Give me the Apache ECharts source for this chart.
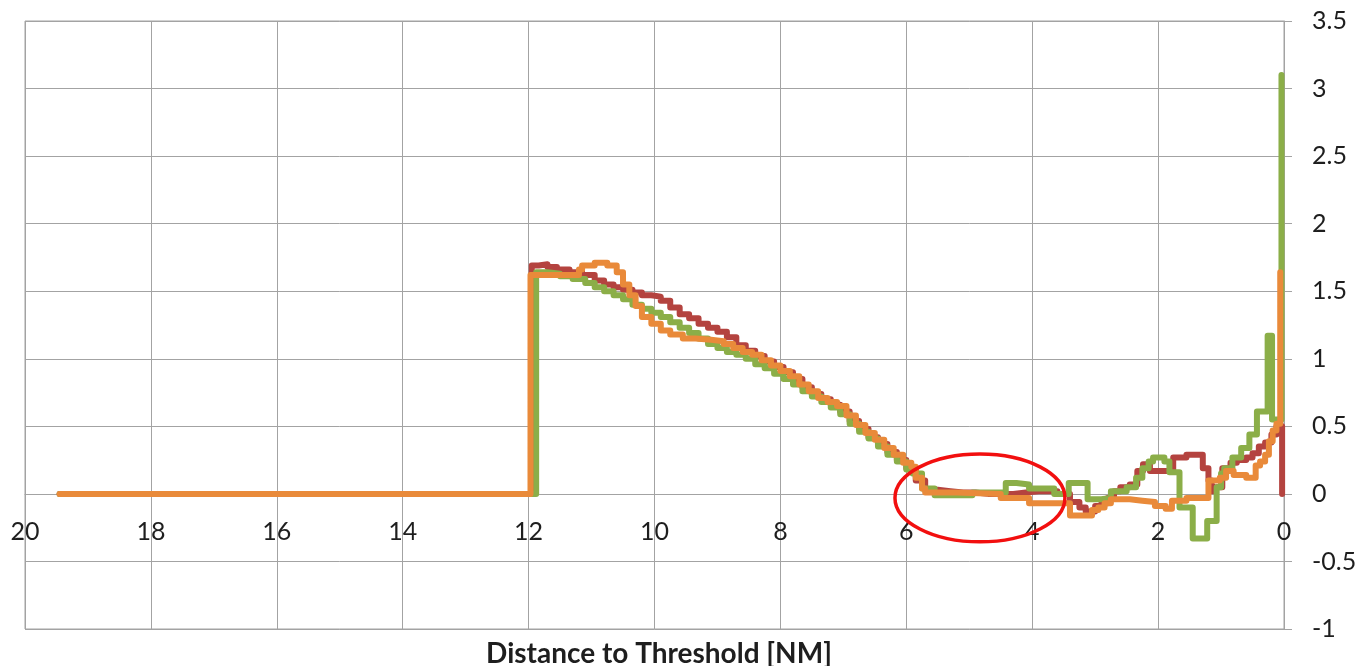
<!DOCTYPE html>
<html>
<head>
<meta charset="utf-8">
<script src="https://cdn.jsdelivr.net/npm/echarts@6/dist/echarts.min.js"></script>
<style>
  html, body { margin: 0; padding: 0; background: #fff; }
  #chart { width: 1363px; height: 666px; }
</style>
</head>
<body>
<div id="chart"></div>
<script>
// Distance to threshold (NM) and value for each of the three runs
const redDist = [19.45, 11.95, 11.84, 11.7, 11.55, 11.35, 11.15, 10.95, 10.8, 10.65, 10.5, 10.35, 10.2, 10.05, 9.9, 9.75, 9.6, 9.45, 9.3, 9.15, 9.0, 8.85, 8.7, 8.55, 8.4, 8.25, 8.1, 7.95, 7.8, 7.65, 7.5, 7.35, 7.2, 7.05, 6.9, 6.75, 6.6, 6.45, 6.3, 6.15, 6.0, 5.85, 5.7, 5.5, 5.3, 5.1, 4.9, 4.7, 4.5, 4.3, 4.1, 3.9, 3.6, 3.4, 3.25, 3.15, 3.0, 2.9, 2.8, 2.7, 2.6, 2.45, 2.33, 2.24, 2.13, 1.76, 1.55, 1.38, 1.29, 1.2, 1.15, 1.08, 0.98, 0.85, 0.75, 0.6, 0.5, 0.4, 0.3, 0.2, 0.12, 0.03];
const redVal  = [0, 1.69, 1.70, 1.68, 1.66, 1.64, 1.62, 1.58, 1.55, 1.53, 1.51, 1.49, 1.47, 1.46, 1.43, 1.38, 1.33, 1.30, 1.26, 1.23, 1.20, 1.16, 1.10, 1.06, 1.02, 0.98, 0.94, 0.90, 0.85, 0.79, 0.74, 0.70, 0.66, 0.61, 0.54, 0.48, 0.42, 0.37, 0.31, 0.25, 0.19, 0.10, 0.03, 0.02, 0.01, 0.01, 0.0, 0.0, 0.0, 0.01, 0.02, 0.02, 0.0, -0.06, -0.10, -0.13, -0.09, -0.07, -0.03, 0.02, 0.05, 0.07, 0.17, 0.22, 0.17, 0.27, 0.29, 0.29, 0.19, 0.10, 0.02, 0.05, 0.19, 0.23, 0.25, 0.27, 0.30, 0.35, 0.38, 0.44, 0.50, 0.0];

const greenDist = [19.45, 11.88, 11.7, 11.5, 11.3, 11.1, 10.95, 10.8, 10.65, 10.5, 10.35, 10.2, 10.05, 9.9, 9.75, 9.6, 9.45, 9.3, 9.15, 9.0, 8.85, 8.7, 8.55, 8.4, 8.25, 8.1, 7.95, 7.8, 7.65, 7.5, 7.35, 7.2, 7.05, 6.9, 6.75, 6.6, 6.45, 6.3, 6.15, 6.0, 5.9, 5.75, 5.55, 4.95, 4.42, 4.25, 4.05, 3.65, 3.42, 3.12, 2.9, 2.75, 2.5, 2.35, 2.25, 2.15, 2.08, 1.9, 1.82, 1.66, 1.45, 1.22, 1.07, 1.0, 0.95, 0.82, 0.68, 0.55, 0.43, 0.26, 0.19, 0.04];
const greenVal  = [0, 1.64, 1.63, 1.61, 1.59, 1.56, 1.53, 1.50, 1.47, 1.44, 1.40, 1.37, 1.34, 1.31, 1.27, 1.23, 1.19, 1.15, 1.11, 1.08, 1.05, 1.03, 1.00, 0.96, 0.93, 0.89, 0.85, 0.81, 0.76, 0.72, 0.68, 0.64, 0.59, 0.52, 0.46, 0.41, 0.35, 0.29, 0.24, 0.18, 0.15, 0.04, -0.01, 0.01, 0.08, 0.07, 0.04, 0.0, 0.08, -0.04, -0.03, 0.02, 0.05, 0.12, 0.19, 0.24, 0.27, 0.24, 0.16, -0.10, -0.33, -0.20, 0.05, 0.15, 0.19, 0.27, 0.34, 0.44, 0.61, 1.17, 0.55, 3.10];

const orangeDist = [19.45, 11.97, 11.2, 11.15, 10.95, 10.75, 10.6, 10.5, 10.4, 10.3, 10.2, 10.05, 9.9, 9.75, 9.55, 9.35, 9.1, 8.9, 8.75, 8.6, 8.45, 8.3, 8.15, 8.0, 7.85, 7.7, 7.55, 7.4, 7.25, 7.1, 6.95, 6.8, 6.65, 6.5, 6.35, 6.2, 6.05, 5.92, 5.85, 5.75, 5.7, 5.2, 4.5, 4.05, 3.4, 3.05, 2.95, 2.85, 2.75, 2.45, 2.25, 2.05, 1.88, 1.78, 1.55, 1.2, 1.02, 0.92, 0.8, 0.6, 0.45, 0.38, 0.3, 0.24, 0.18, 0.12, 0.06];
const orangeVal  = [0, 1.62, 1.66, 1.69, 1.71, 1.69, 1.64, 1.55, 1.47, 1.39, 1.31, 1.26, 1.21, 1.18, 1.15, 1.14, 1.13, 1.11, 1.08, 1.05, 1.03, 0.99, 0.95, 0.91, 0.87, 0.81, 0.76, 0.71, 0.68, 0.65, 0.58, 0.51, 0.45, 0.40, 0.34, 0.29, 0.23, 0.20, 0.12, 0.04, 0.01, 0.0, -0.03, -0.07, -0.16, -0.12, -0.10, -0.07, -0.04, -0.05, -0.06, -0.09, -0.11, -0.05, -0.03, 0.10, 0.12, 0.17, 0.14, 0.12, 0.21, 0.24, 0.29, 0.39, 0.47, 0.52, 1.64];

// Highlighted region (centre and half-size in data units)
const zoneCenter = [4.83, -0.03];
const zoneHalf = [1.35, 0.325];

const xAxisTitle = 'Distance to Threshold [NM]';

const pairs = (xs, ys) => xs.map((x, i) => [x, ys[i]]);

const gridColor = '#a3a3a3';
const textColor = '#1e1e1e';
const labelFont = 'Lato, "Noto Sans", sans-serif';

function lineSeries(name, color, xs, ys) {
  return {
    name: name,
    type: 'line',
    step: 'end',
    showSymbol: false,
    symbol: 'none',
    data: pairs(xs, ys),
    lineStyle: { color: color, width: 6, cap: 'round', join: 'round' },
    emphasis: { disabled: true }
  };
}

const chart = echarts.init(document.getElementById('chart'), null, { renderer: 'canvas' });

chart.setOption({
  animation: false,
  backgroundColor: '#ffffff',
  title: {
    text: xAxisTitle,
    left: 654,
    top: 635,
    textAlign: 'center',
    textStyle: { fontFamily: labelFont, fontWeight: 'bold', fontSize: 28, color: textColor }
  },
  grid: {
    left: 25, right: 79, top: 21, bottom: 37,
    containLabel: false,
    outerBoundsMode: 'none',
    show: true, borderColor: gridColor, borderWidth: 1
  },
  xAxis: {
    type: 'value',
    inverse: true,
    min: 0, max: 20, interval: 2,
    axisLine: { show: true, onZero: false, lineStyle: { color: gridColor, width: 1 } },
    axisTick: { show: false },
    axisLabel: {
      margin: 26, fontFamily: labelFont, fontSize: 25, color: textColor,
      showMinLabel: true, showMaxLabel: true
    },
    splitLine: { show: true, lineStyle: { color: gridColor, width: 1 } }
  },
  yAxis: {
    type: 'value',
    position: 'right',
    min: -1, max: 3.5, interval: 0.5,
    axisLine: { show: true, onZero: false, lineStyle: { color: gridColor, width: 1 } },
    axisTick: { show: true, length: 8, lineStyle: { color: gridColor } },
    axisLabel: { margin: 28, fontFamily: labelFont, fontSize: 25, color: textColor },
    splitLine: { show: true, lineStyle: { color: gridColor, width: 1 } }
  },
  series: [
    lineSeries('Run A', '#b4433f', redDist, redVal),
    lineSeries('Run B', '#8bae48', greenDist, greenVal),
    lineSeries('Run C', '#e98a3a', orangeDist, orangeVal)
  ]
});

// Move the distance axis up so it crosses the value axis at zero
const zeroY = chart.convertToPixel({ yAxisIndex: 0 }, 0);
const bottomY = chart.convertToPixel({ yAxisIndex: 0 }, -1);

// Ellipse marking the flat segment, placed through the chart's own coordinate system
const c = chart.convertToPixel({ gridIndex: 0 }, zoneCenter);
const corner = chart.convertToPixel({ gridIndex: 0 }, [zoneCenter[0] - zoneHalf[0], zoneCenter[1] + zoneHalf[1]]);
chart.setOption({
  xAxis: { offset: zeroY - bottomY },
  graphic: [{
    type: 'ellipse',
    z: 100,
    silent: true,
    shape: { cx: c[0], cy: c[1], rx: Math.abs(corner[0] - c[0]), ry: Math.abs(corner[1] - c[1]) },
    style: { fill: 'none', stroke: '#f20f0f', lineWidth: 3.5 }
  }]
});
</script>
</body>
</html>
